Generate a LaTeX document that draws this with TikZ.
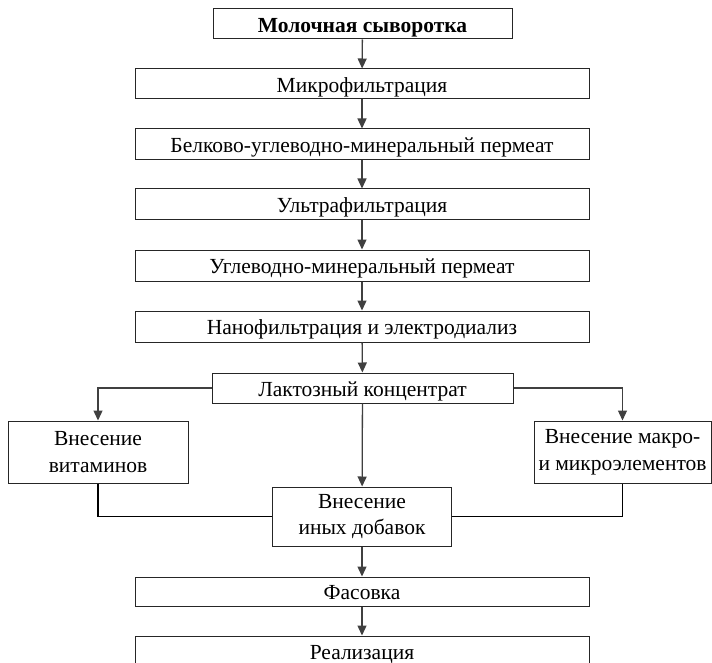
\documentclass[tikz,border=0pt]{standalone}
\usepackage{fontspec}
\setmainfont{Liberation Serif}
\usetikzlibrary{arrows.meta}
\definecolor{arrc}{HTML}{404040}
\tikzset{
  box/.style={draw=black!85, line width=1pt, rectangle, inner sep=0pt, align=center,
    text height=21.5pt, text depth=5.2pt,
    font=\fontsize{21.5}{26.5}\selectfont},
  twoline/.style={text height=, text depth=},
  arr/.style={draw=arrc, line width=1.3pt, -{Triangle[length=10pt,width=9pt]}},
  lnk/.style={draw=black, line width=1.3pt}
}
\begin{document}
\begin{tikzpicture}[x=1pt,y=-1pt]
\useasboundingbox (0,0) rectangle (712,663);
\clip (0,0) rectangle (712,663);
\node[box, minimum width=299pt, minimum height=30pt, font=\fontsize{21.5}{26.5}\selectfont\bfseries] (b1) at (362.5,24) {Молочная сыворотка};
\node[box, minimum width=454pt, minimum height=30pt] (b2) at (362,84) {Микрофильтрация};
\node[box, minimum width=454pt, minimum height=31pt] (b3) at (362,144.5) {Белково-углеводно-минеральный пермеат};
\node[box, minimum width=454pt, minimum height=31pt] (b4) at (362,204.5) {Ультрафильтрация};
\node[box, minimum width=454pt, minimum height=31pt] (b5) at (362,265.5) {Углеводно-минеральный пермеат};
\node[box, minimum width=454pt, minimum height=31pt] (b6) at (362,326.5) {Нанофильтрация и электродиализ};
\node[box, minimum width=301pt, minimum height=30pt] (b7) at (362.5,388) {Лактозный концентрат};
\node[box, twoline, minimum width=180pt, minimum height=62pt] (bl) at (98,452) {Внесение\\витаминов};
\node[box, twoline, minimum width=177pt, minimum height=62pt] (br) at (622.5,452) {Внесение макро-\\и микроэлементов};
\node[box, twoline, minimum width=179pt, minimum height=59pt] (bc) at (362,516.5) {Внесение\\иных добавок};
\node[box, minimum width=454pt, minimum height=29pt] (b8) at (362,591.5) {Фасовка};
\node[box, minimum width=454pt, minimum height=30pt] (b9) at (362,651) {Реализация};
\draw[arr] (b1) -- (b2);
\draw[arr] (b2) -- (b3);
\draw[arr] (b3) -- (b4);
\draw[arr] (b4) -- (b5);
\draw[arr] (b5) -- (b6);
\draw[arr] (b6) -- (b7);
\draw[arr] (b7) -- (bc);
\draw[arr] (b7.west) -| (bl.north);
\draw[arr] (b7.east) -| (br.north);
\draw[lnk] (bl.south) |- (bc.west);
\draw[lnk] (br.south) |- (bc.east);
\draw[arr] (bc) -- (b8);
\draw[arr] (b8) -- (b9);
\end{tikzpicture}
\end{document}
